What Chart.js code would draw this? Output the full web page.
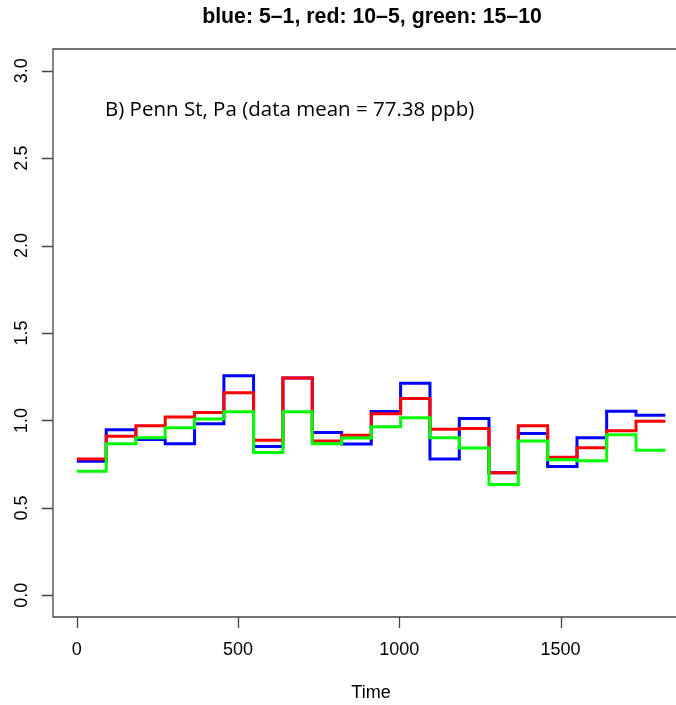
<!DOCTYPE html>
<html>
<head>
<meta charset="utf-8">
<script src="https://cdn.jsdelivr.net/npm/chart.js@4/dist/chart.umd.min.js"></script>
<style>
  html, body { margin: 0; padding: 0; background: #fff; }
  canvas { display: block; }
</style>
</head>
<body>
<canvas id="chart" width="676" height="705"></canvas>
<script>
// quarter boundaries (days)
const time = [0, 91, 183, 274, 365, 456, 548, 639, 730, 821, 913, 1004, 1095, 1186, 1278, 1369, 1460, 1551, 1643, 1734, 1825];

// step values, one per quarter
const blue  = [0.767, 0.947, 0.891, 0.867, 0.981, 1.255, 0.851, 1.242, 0.931, 0.865, 1.051, 1.213, 0.779, 1.011, 0.701, 0.926, 0.737, 0.901, 1.053, 1.030];
const red   = [0.779, 0.909, 0.970, 1.019, 1.046, 1.158, 0.886, 1.242, 0.882, 0.916, 1.038, 1.126, 0.949, 0.954, 0.701, 0.970, 0.789, 0.844, 0.941, 0.996];
const green = [0.709, 0.867, 0.901, 0.958, 1.008, 1.050, 0.817, 1.050, 0.867, 0.899, 0.964, 1.015, 0.901, 0.842, 0.633, 0.882, 0.775, 0.770, 0.918, 0.829];

const xTicks = [0, 500, 1000, 1500];
const yTicks = [0.0, 0.5, 1.0, 1.5, 2.0, 2.5, 3.0];

const title = 'blue: 5\u20131, red: 10\u20135, green: 15\u201310';
const note = 'B) Penn St, Pa (data mean = 77.38 ppb)';
const xLabel = 'Time';

// R type="s": last value carried to the end point
function steps(vals) {
  const pts = vals.map((v, i) => ({ x: time[i], y: v }));
  pts.push({ x: time[time.length - 1], y: vals[vals.length - 1] });
  return pts;
}

function line(data, color) {
  return {
    data: steps(data),
    borderColor: color,
    borderWidth: 3,
    stepped: true,
    pointRadius: 0,
    fill: false
  };
}

// axes, ticks and texts drawn R-style
const rAxes = {
  id: 'rAxes',
  afterDraw(chart) {
    const ctx = chart.ctx;
    const a = chart.chartArea;
    const xs = chart.scales.x;
    const ys = chart.scales.y;
    ctx.save();

    // box (right edge falls outside the picture)
    ctx.strokeStyle = '#444';
    ctx.lineWidth = 1.3;
    ctx.beginPath();
    ctx.moveTo(a.right + 5, a.top);
    ctx.lineTo(a.left, a.top);
    ctx.lineTo(a.left, a.bottom);
    ctx.lineTo(a.right + 5, a.bottom);
    ctx.stroke();

    // x ticks
    ctx.fillStyle = '#000';
    ctx.font = '18px "Liberation Sans", Arial, sans-serif';
    ctx.textAlign = 'center';
    ctx.textBaseline = 'middle';
    ctx.beginPath();
    xTicks.forEach(v => {
      const px = Math.round(xs.getPixelForValue(v)) + 0.5;
      ctx.moveTo(px, a.bottom);
      ctx.lineTo(px, a.bottom + 11);
    });
    ctx.stroke();
    xTicks.forEach(v => {
      ctx.fillText(String(v), xs.getPixelForValue(v), 650);
    });

    // y ticks, labels rotated
    ctx.beginPath();
    yTicks.forEach(v => {
      const py = Math.round(ys.getPixelForValue(v)) + 0.5;
      ctx.moveTo(a.left - 11, py);
      ctx.lineTo(a.left, py);
    });
    ctx.stroke();
    yTicks.forEach(v => {
      ctx.save();
      ctx.translate(22, ys.getPixelForValue(v));
      ctx.rotate(-Math.PI / 2);
      ctx.fillText(v.toFixed(1), 0, 0);
      ctx.restore();
    });

    // axis title
    ctx.font = '18px "Liberation Sans", Arial, sans-serif';
    ctx.fillText(xLabel, 371, 693);

    // main title
    ctx.font = 'bold 21.3px "Liberation Sans", Arial, sans-serif';
    ctx.fillText(title, 372, 17);

    // annotation
    ctx.font = '20.5px "Open Sans", sans-serif';
    ctx.textAlign = 'left';
    ctx.fillText(note, 105, 110);

    ctx.restore();
  }
};

new Chart(document.getElementById('chart'), {
  type: 'line',
  data: {
    datasets: [
      line(green, '#00ff00'),
      line(red, '#ff0000'),
      line(blue, '#0000ff')
    ]
  },
  options: {
    responsive: false,
    animation: false,
    layout: { padding: { left: 53, top: 49, right: 0, bottom: 88 } },
    plugins: { legend: { display: false }, tooltip: { enabled: false } },
    scales: {
      x: { type: 'linear', min: -74, max: 1858, display: false },
      y: { type: 'linear', min: -0.124, max: 3.124, display: false }
    }
  },
  plugins: [rAxes]
});
</script>
</body>
</html>
